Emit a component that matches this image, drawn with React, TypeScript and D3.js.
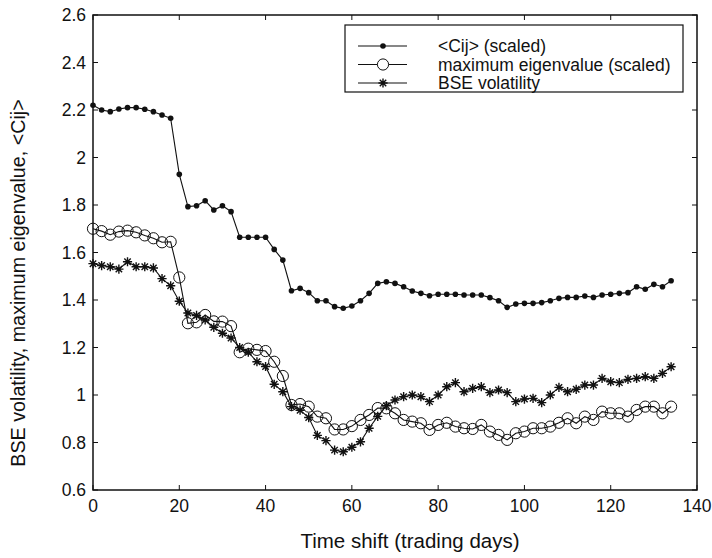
import React from "react";
import * as d3 from "d3";

const days: number[] = d3.range(0, 135, 2);

const cijScaled: number[] = [
  2.22, 2.2, 2.193, 2.204, 2.21, 2.21, 2.203, 2.193, 2.179, 2.165,
  1.929, 1.793, 1.797, 1.818, 1.779, 1.797, 1.772, 1.664, 1.664, 1.664,
  1.664, 1.613, 1.568, 1.439, 1.449, 1.431, 1.397, 1.397, 1.372, 1.365,
  1.375, 1.397, 1.428, 1.47, 1.477, 1.47, 1.456, 1.438, 1.428, 1.418,
  1.424, 1.424, 1.424, 1.421, 1.421, 1.421, 1.41, 1.397, 1.369, 1.383,
  1.386, 1.386, 1.389, 1.397, 1.407, 1.411, 1.411, 1.417, 1.411, 1.421,
  1.424, 1.428, 1.431, 1.456, 1.445, 1.466, 1.456, 1.481,
];

const maxEigen: number[] = [
  1.7, 1.69, 1.675, 1.688, 1.692, 1.685, 1.672, 1.66, 1.643, 1.645,
  1.495, 1.302, 1.306, 1.337, 1.31, 1.309, 1.29, 1.18, 1.195, 1.19,
  1.185, 1.14, 1.08, 0.958, 0.962, 0.951, 0.909, 0.902, 0.855, 0.855,
  0.869, 0.895, 0.916, 0.945, 0.944, 0.923, 0.895, 0.888, 0.881, 0.853,
  0.874, 0.883, 0.867, 0.86, 0.857, 0.874, 0.846, 0.832, 0.811, 0.839,
  0.846, 0.86, 0.86, 0.867, 0.883, 0.902, 0.881, 0.909, 0.895, 0.93,
  0.923, 0.923, 0.909, 0.937, 0.951, 0.951, 0.923, 0.951,
];

const bseVol: number[] = [
  1.553, 1.545, 1.54, 1.53, 1.561, 1.54, 1.54, 1.535, 1.49, 1.46,
  1.395, 1.345, 1.335, 1.316, 1.285, 1.26, 1.24, 1.2, 1.18, 1.14,
  1.12, 1.045, 1.014, 0.951, 0.936, 0.905, 0.83, 0.808, 0.768, 0.761,
  0.78, 0.803, 0.86, 0.91, 0.955, 0.979, 0.993, 1.0, 0.993, 0.972,
  1.0, 1.035, 1.052, 1.014, 1.028, 1.035, 1.01, 1.021, 1.01, 0.972,
  0.983, 0.986, 0.968, 1.0, 1.032, 1.014, 1.024, 1.042, 1.042, 1.07,
  1.056, 1.052, 1.066, 1.07, 1.077, 1.07, 1.091, 1.119,
];

const xTicks: number[] = [0, 20, 40, 60, 80, 100, 120, 140];
const yTicks: number[] = [0.6, 0.8, 1, 1.2, 1.4, 1.6, 1.8, 2, 2.2, 2.4, 2.6];
const legendLabels: string[] = ["<Cij> (scaled)", "maximum eigenvalue (scaled)", "BSE volatility"];

const W = 712;
const H = 558;
const M = { left: 93, right: 697, top: 15, bottom: 490 };
const INK = "#111";
const FONT = "'Liberation Sans', Arial, Helvetica, sans-serif";

function Star({ cx, cy, s }: { cx: number; cy: number; s: number }) {
  const d = `M${cx - s},${cy}L${cx + s},${cy}M${cx},${cy - s}L${cx},${cy + s}` +
    `M${cx - s * 0.7},${cy - s * 0.7}L${cx + s * 0.7},${cy + s * 0.7}` +
    `M${cx - s * 0.7},${cy + s * 0.7}L${cx + s * 0.7},${cy - s * 0.7}`;
  return <path d={d} stroke={INK} strokeWidth={1.4} fill="none" />;
}

export default function App() {
  const x = d3.scaleLinear().domain([0, 140]).range([M.left, M.right]);
  const y = d3.scaleLinear().domain([0.6, 2.6]).range([M.bottom, M.top]);
  const line = d3.line<number>().x((_, i) => x(days[i])).y((v) => y(v));
  const tl = 5;

  const legendX = 345, legendY = 25, legendW = 338, legendH = 67;
  const rows = [46, 64.5, 83];

  return (
    <div style={{ position: "absolute", left: 0, top: 0 }}>
      <svg width={W} height={H} style={{ display: "block", background: "#fff" }} fontFamily={FONT}>
        <rect x={0} y={0} width={W} height={H} fill="#fff" />
        <path d={line(cijScaled) || ""} fill="none" stroke={INK} strokeWidth={1.1} />
        <path d={line(maxEigen) || ""} fill="none" stroke={INK} strokeWidth={1.1} />
        <path d={line(bseVol) || ""} fill="none" stroke={INK} strokeWidth={1.1} />
        {cijScaled.map((v, i) => (
          <circle key={"c" + i} cx={x(days[i])} cy={y(v)} r={2.8} fill={INK} />
        ))}
        {maxEigen.map((v, i) => (
          <circle key={"e" + i} cx={x(days[i])} cy={y(v)} r={5.6} fill="none" stroke={INK} strokeWidth={1} />
        ))}
        {bseVol.map((v, i) => (
          <Star key={"s" + i} cx={x(days[i])} cy={y(v)} s={4.6} />
        ))}
        <rect x={M.left} y={M.top} width={M.right - M.left} height={M.bottom - M.top} fill="none" stroke={INK} strokeWidth={1.5} />
        {xTicks.map((t) => (
          <g key={"xt" + t}>
            <line x1={x(t)} x2={x(t)} y1={M.bottom} y2={M.bottom - tl} stroke={INK} />
            <line x1={x(t)} x2={x(t)} y1={M.top} y2={M.top + tl} stroke={INK} />
            <text x={x(t)} y={512} textAnchor="middle" fontSize={17.5} fill={INK}>{t}</text>
          </g>
        ))}
        {yTicks.map((t) => (
          <g key={"yt" + t}>
            <line x1={M.left} x2={M.left + tl} y1={y(t)} y2={y(t)} stroke={INK} />
            <line x1={M.right} x2={M.right - tl} y1={y(t)} y2={y(t)} stroke={INK} />
            <text x={86} y={y(t) + 6} textAnchor="end" fontSize={17.5} fill={INK}>{d3.format("~g")(t)}</text>
          </g>
        ))}
        <text x={410} y={548} textAnchor="middle" fontSize={20.5} fill={INK}>Time shift (trading days)</text>
        <text transform={`translate(25,283) rotate(-90)`} textAnchor="middle" fontSize={19.7} fill={INK}>
          BSE volatility, maximum eigenvalue, &lt;Cij&gt;
        </text>
        <rect x={legendX} y={legendY} width={legendW} height={legendH} fill="#fff" stroke={INK} strokeWidth={1.2} />
        {legendLabels.map((lab, i) => (
          <g key={"lg" + i}>
            <line x1={358} x2={407} y1={rows[i]} y2={rows[i]} stroke={INK} strokeWidth={1.1} />
            {i === 0 && <circle cx={383} cy={rows[i]} r={2.8} fill={INK} />}
            {i === 1 && <circle cx={383} cy={rows[i]} r={5.6} fill="#fff" stroke={INK} />}
            {i === 2 && <Star cx={383} cy={rows[i]} s={4.6} />}
            <text x={438} y={rows[i] + 6} fontSize={17.5} fill={INK}>{lab}</text>
          </g>
        ))}
      </svg>
    </div>
  );
}
